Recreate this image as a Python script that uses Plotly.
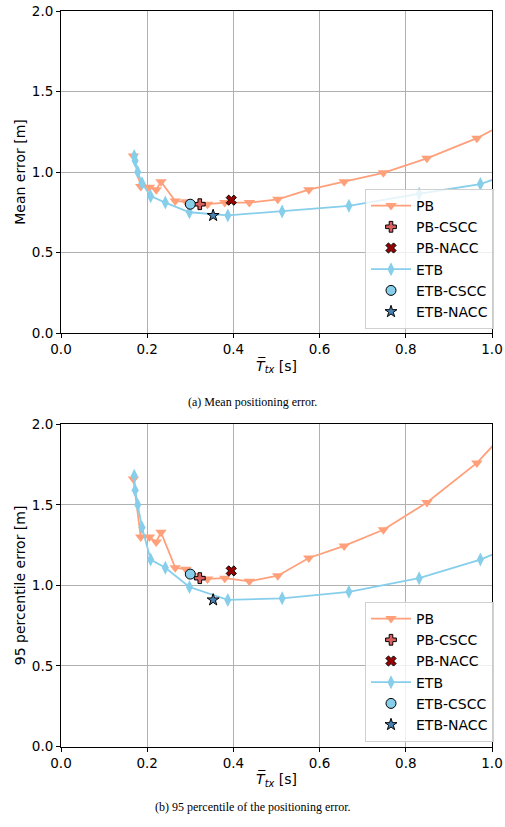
import plotly.graph_objects as go

# ---- data ----
pb_x = [0.168, 0.185, 0.205, 0.221, 0.232, 0.265, 0.29, 0.34, 0.38, 0.437, 0.503, 0.575, 0.657, 0.748, 0.849, 0.965, 1.10]
pb_mean = [1.10, 0.91, 0.905, 0.89, 0.94, 0.82, 0.815, 0.80, 0.81, 0.81, 0.83, 0.89, 0.94, 0.995, 1.085, 1.21, 1.40]
pb_p95 = [1.66, 1.30, 1.30, 1.27, 1.33, 1.11, 1.10, 1.04, 1.045, 1.025, 1.06, 1.17, 1.245, 1.345, 1.515, 1.76, 2.15]

etb_x = [0.170, 0.172, 0.178, 0.188, 0.208, 0.242, 0.298, 0.387, 0.513, 0.668, 0.831, 0.973, 1.10]
etb_mean = [1.10, 1.07, 1.00, 0.93, 0.85, 0.81, 0.75, 0.73, 0.755, 0.79, 0.865, 0.925, 1.045]
etb_p95 = [1.68, 1.59, 1.50, 1.36, 1.16, 1.11, 0.99, 0.91, 0.92, 0.96, 1.045, 1.16, 1.30]

pb_cscc_x = [0.322]; pb_cscc_mean = [0.80]; pb_cscc_p95 = [1.045]
pb_nacc_x = [0.395]; pb_nacc_mean = [0.825]; pb_nacc_p95 = [1.09]
etb_cscc_x = [0.300]; etb_cscc_mean = [0.80]; etb_cscc_p95 = [1.07]
etb_nacc_x = [0.353]; etb_nacc_mean = [0.73]; etb_nacc_p95 = [0.91]

x_ticks = [0.0, 0.2, 0.4, 0.6, 0.8, 1.0]
y_ticks = [0.0, 0.5, 1.0, 1.5, 2.0]

PB_C = "#FFA07A"
ETB_C = "#87CEEB"

W, H = 505, 827
fig = go.Figure()

def add_panel(xa, ya, leg, pb_y, etb_y, cscc_pb, nacc_pb, cscc_etb, nacc_etb):
    fig.add_trace(go.Scatter(x=pb_x, y=pb_y, mode="lines+markers", name="PB",
                             line=dict(color=PB_C, width=1.8),
                             marker=dict(symbol="triangle-down", size=10, color=PB_C),
                             xaxis=xa, yaxis=ya, legend=leg))
    fig.add_trace(go.Scatter(x=pb_cscc_x, y=cscc_pb, mode="markers", name="PB-CSCC",
                             marker=dict(symbol="cross", size=9, color="#D9605F",
                                         line=dict(color="black", width=1)),
                             xaxis=xa, yaxis=ya, legend=leg))
    fig.add_trace(go.Scatter(x=pb_nacc_x, y=nacc_pb, mode="markers", name="PB-NACC",
                             marker=dict(symbol="x", size=9, color="#990000",
                                         line=dict(color="black", width=1)),
                             xaxis=xa, yaxis=ya, legend=leg))
    fig.add_trace(go.Scatter(x=etb_x, y=etb_y, mode="lines+markers", name="ETB",
                             line=dict(color=ETB_C, width=1.8),
                             marker=dict(symbol="diamond-tall", size=10, color=ETB_C),
                             xaxis=xa, yaxis=ya, legend=leg))
    fig.add_trace(go.Scatter(x=etb_cscc_x, y=cscc_etb, mode="markers", name="ETB-CSCC",
                             marker=dict(symbol="circle", size=10, color=ETB_C,
                                         line=dict(color="black", width=1)),
                             xaxis=xa, yaxis=ya, legend=leg))
    fig.add_trace(go.Scatter(x=etb_nacc_x, y=nacc_etb, mode="markers", name="ETB-NACC",
                             marker=dict(symbol="star", size=9, color="#4682B4",
                                         line=dict(color="black", width=1)),
                             xaxis=xa, yaxis=ya, legend=leg))

add_panel("x", "y", "legend", pb_mean, etb_mean, pb_cscc_mean, pb_nacc_mean, etb_cscc_mean, etb_nacc_mean)
add_panel("x2", "y2", "legend2", pb_p95, etb_p95, pb_cscc_p95, pb_nacc_p95, etb_cscc_p95, etb_nacc_p95)

x_dom = [61 / W, 492 / W]
top_dom = [1 - 333 / H, 1 - 11 / H]
bot_dom = [1 - 746.5 / H, 1 - 424.3 / H]

tick_font = dict(family="DejaVu Sans", size=13.5, color="black")
xtitle = "<i>T\u0305</i><sub><i>tx</i></sub> [s]"

def xaxis_cfg(anchor):
    return dict(domain=x_dom, anchor=anchor, range=[0, 1], tickvals=x_ticks,
                ticktext=[f"{v:.1f}" for v in x_ticks], automargin=False,
                showgrid=True, gridcolor="#b0b0b0", gridwidth=1,
                showline=True, linecolor="black", linewidth=1, mirror=True,
                ticks="outside", ticklen=4, tickcolor="black", zeroline=False,
                tickfont=tick_font,
                title=dict(text=xtitle, font=dict(family="DejaVu Sans", size=14, color="black"), standoff=4))

def yaxis_cfg(anchor, dom, title):
    return dict(domain=dom, anchor=anchor, range=[0, 2], tickvals=y_ticks,
                ticktext=[f"{v:.1f}" for v in y_ticks], automargin=False,
                showgrid=True, gridcolor="#b0b0b0", gridwidth=1,
                showline=True, linecolor="black", linewidth=1, mirror=True,
                ticks="outside", ticklen=4, tickcolor="black", zeroline=False,
                tickfont=tick_font,
                title=dict(text=title, font=dict(family="DejaVu Sans", size=14, color="black"), standoff=2))

legend_common = dict(font=dict(family="DejaVu Sans", size=14, color="black"),
                     bgcolor="rgba(255,255,255,0.8)", bordercolor="#d0d0d0", borderwidth=1,
                     xanchor="right", yanchor="bottom", tracegroupgap=0, itemwidth=40)

fig.update_layout(
    width=W, height=H,
    margin=dict(l=0, r=0, t=0, b=0, autoexpand=False),
    paper_bgcolor="white", plot_bgcolor="white",
    xaxis=xaxis_cfg("y"),
    yaxis=yaxis_cfg("x", top_dom, "Mean error [m]"),
    xaxis2=xaxis_cfg("y2"),
    yaxis2=yaxis_cfg("x2", bot_dom, "95 percentile error [m]"),
    legend=dict(x=494 / W, y=1 - 329 / H, **legend_common),
    legend2=dict(x=494 / W, y=1 - 742 / H, **legend_common),
    annotations=[
        dict(text="(a) Mean positioning error.", x=0.5, y=1 - 402 / H, xref="paper", yref="paper",
             showarrow=False, font=dict(family="Liberation Serif", size=12, color="black")),
        dict(text="(b) 95 percentile of the positioning error.", x=0.5, y=1 - 816 / H,
             xref="paper", yref="paper", showarrow=False,
             font=dict(family="Liberation Serif", size=12, color="black")),
    ],
)

fig.write_html("out.html")
